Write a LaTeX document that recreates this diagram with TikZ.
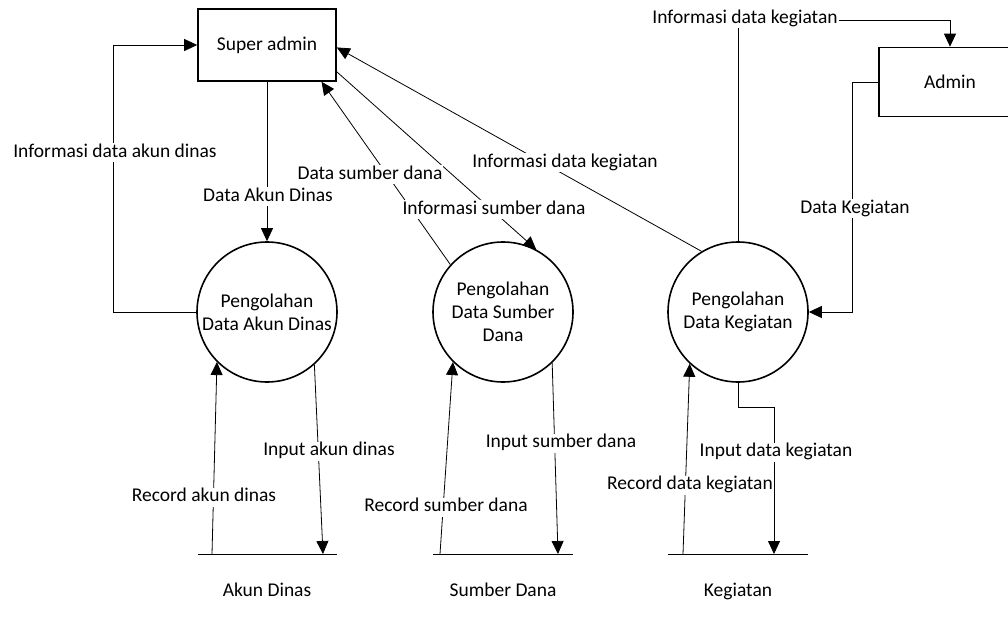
\documentclass[tikz,border=0pt]{standalone}
\usepackage{fontspec}
\setmainfont{Carlito}
\usepackage{tikz}
\usetikzlibrary{arrows.meta, positioning, calc}

\begin{document}
\begin{tikzpicture}[x=1pt, y=-1pt,
    every node/.style={font=\fontsize{19.5}{23}\selectfont},
    entity/.style={draw, line width=1.6pt, minimum width=138pt, minimum height=72pt},
    process/.style={draw, circle, line width=1.6pt, minimum size=140pt, inner sep=0pt, align=center},
    flow/.style={line width=0.8pt, -{Triangle[length=13pt, width=12pt]}},
    lbl/.style={fill=white, inner sep=1pt, text height=13pt, text depth=4pt},
    storelabel/.style={text height=13pt, text depth=4pt},
    storeline/.style={line width=1pt}]
    \useasboundingbox (0,0) rectangle (1008,620);

    % External entities
    \node[entity] (superadmin) at (267,45) {Super admin};
    \node[entity, minimum width=142pt, minimum height=69pt] (admin) at (950,82) {Admin};

    % Processes
    \node[process] (p1) at (267,312) {Pengolahan\\Data Akun Dinas};
    \node[process] (p2) at (503,312) {Pengolahan\\Data Sumber\\Dana};
    \node[process] (p3) at (738,312) {Pengolahan\\Data Kegiatan};

    % Data stores
    \draw[storeline] (198,554) -- (337,554);
    \draw[storeline] (433,554) -- (573,554);
    \draw[storeline] (668,554) -- (808,554);
    \node[storelabel] (s1) at (267,592) {Akun Dinas};
    \node[storelabel] (s2) at (503,592) {Sumber Dana};
    \node[storelabel] (s3) at (738,592) {Kegiatan};
    \coordinate (r1) at (212,554);
    \coordinate (i1) at (323,554);
    \coordinate (r2) at (440,554);
    \coordinate (i2) at (558,554);
    \coordinate (r3) at (683,554);
    \coordinate (i3) at (774,554);

    % Flows between Super admin and processes
    \draw[flow] (superadmin.south) -- (p1.north);
    \draw[flow] (p1.west) -- ++(-83,0) |- (superadmin.west);
    \draw[flow] (p2.138) -- (superadmin.-34.5);
    \draw[flow] (superadmin.-21) -- (p2.62);
    \draw[flow] (p3.121) -- (superadmin.-2.5);

    % Flows with Admin
    \draw[flow] (p3.north) -- ++(0,-221) -| (admin.north);
    \draw[flow] (admin.west) -- ++(-26,0) |- (p3.east);

    % Flows with data stores
    \draw[flow] (r1) -- (p1.-135);
    \draw[flow] (p1.-48) -- (i1);
    \draw[flow] (r2) -- (p2.-135);
    \draw[flow] (p2.-46) -- (i2);
    \draw[flow] (r3) -- (p3.-133);
    \draw[flow] (p3.south) -- ++(0,25) -| (i3);

    % Flow labels
    \node[lbl] (l1) at (115,153) {Informasi data akun dinas};
    \node[lbl] (l2) at (268,197) {Data Akun Dinas};
    \node[lbl] (l3) at (370,175) {Data sumber dana};
    \node[lbl] (l4) at (494,210) {Informasi sumber dana};
    \node[lbl] (l5) at (565,163) {Informasi data kegiatan};
    \node[lbl] (l6) at (745,19) {Informasi data kegiatan};
    \node[lbl] (l7) at (855,209) {Data Kegiatan};
    \node[lbl] (l8) at (329,451) {Input akun dinas};
    \node[lbl] (l9) at (204,497) {Record akun dinas};
    \node[lbl] (l10) at (561,443) {Input sumber dana};
    \node[lbl] (l11) at (446,507) {Record sumber dana};
    \node[lbl] (l12) at (776,452) {Input data kegiatan};
    \node[lbl] (l13) at (690,485) {Record data kegiatan};
\end{tikzpicture}
\end{document}
